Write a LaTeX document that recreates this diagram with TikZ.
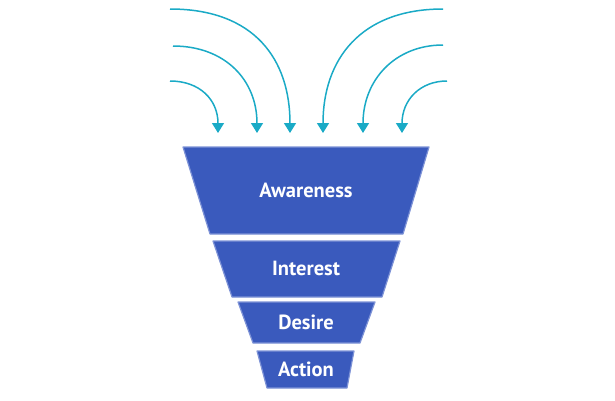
\documentclass[tikz,border=0pt]{standalone}
\usepackage{fontspec}
\setmainfont{PT Sans}
\usetikzlibrary{arrows.meta}
\definecolor{funnel}{HTML}{3A5ABD}
\definecolor{funnelEdge}{HTML}{7D92D6}
\definecolor{arrowc}{HTML}{1AAAC6}
\tikzset{
  stage/.style={fill=funnel, draw=funnelEdge, line width=1.2pt, line join=round},
  stagetext/.style={text=white, font=\bfseries\fontsize{20.5}{24}\selectfont},
  inarrow/.style={draw=arrowc, line width=1.5pt, -{Triangle[width=12pt,length=10pt]}},
}
\begin{document}
\begin{tikzpicture}[x=1pt,y=-1pt]
\useasboundingbox (0,0) rectangle (615,400);
% funnel stages
\path[stage] (183,147) -- (429,147) -- (403,234) -- (210,234) -- cycle;
\path[stage] (213,241) -- (400,241) -- (382,297) -- (232,297) -- cycle;
\path[stage] (238,302) -- (375,302) -- (360,343) -- (253,343) -- cycle;
\path[stage] (257,351) -- (354,351) -- (347,388) -- (267,388) -- cycle;
\node[stagetext] (aw) at (306,190) {Awareness};
\node[stagetext] (in) at (306,268) {Interest};
\node[stagetext] (de) at (306,322) {Desire};
\node[stagetext] (ac) at (306,369) {Action};
% arrow coordinates
\coordinate (s1) at (170,9);
\coordinate (s2) at (173,46);
\coordinate (s3) at (170,81);
\coordinate (s4) at (443,9);
\coordinate (s5) at (443,45);
\coordinate (s6) at (447,81);
\coordinate (e1) at (290,133);
\coordinate (e2) at (257,133);
\coordinate (e3) at (218,133);
\coordinate (e4) at (323,133);
\coordinate (e5) at (363,133);
\coordinate (e6) at (402,133);
\draw[inarrow] (s1) .. controls (255,9) and (290,60) .. (e1);
\draw[inarrow] (s2) .. controls (225,46) and (257,80) .. (e2);
\draw[inarrow] (s3) .. controls (200,81) and (218,100) .. (e3);
\draw[inarrow] (s4) .. controls (360,9) and (323,60) .. (e4);
\draw[inarrow] (s5) .. controls (395,45) and (363,80) .. (e5);
\draw[inarrow] (s6) .. controls (420,81) and (402,100) .. (e6);
\end{tikzpicture}
\end{document}
